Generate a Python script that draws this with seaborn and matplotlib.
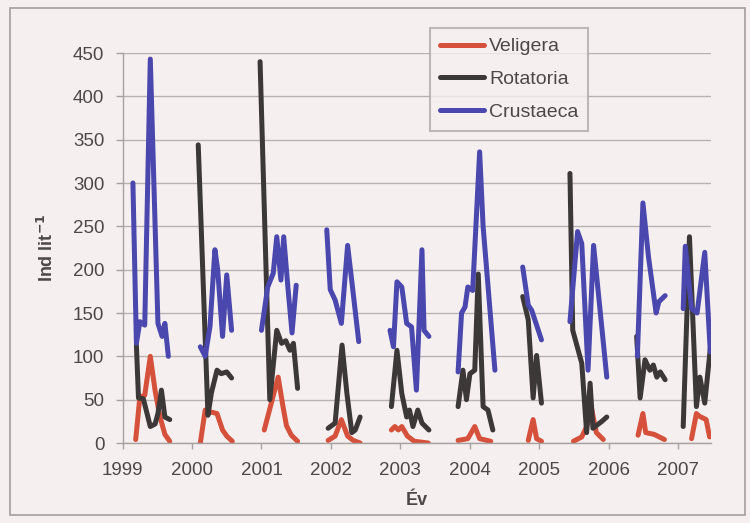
import matplotlib
matplotlib.use("Agg")
import matplotlib.pyplot as plt
from matplotlib.lines import Line2D
from matplotlib.patches import Rectangle
import numpy as np
import pandas as pd
import seaborn as sns

# Series and styling
series_names = ["Veligera", "Rotatoria", "Crustaeca"]
series_colors = ["#d6513b", "#3d3838", "#4a47ae"]

# Sampling dates (decimal years) and densities (ind/l) per group
veligera_t = [1999.19, 1999.25, 1999.32, 1999.40, 1999.47, 1999.54, 1999.61, 1999.68,
              2000.12, 2000.19, 2000.26, 2000.36, 2000.44, 2000.50, 2000.58,
              2001.04, 2001.24, 2001.31, 2001.36, 2001.43, 2001.52,
              2001.96, 2002.06, 2002.15, 2002.24, 2002.32, 2002.42,
              2002.87, 2002.92, 2002.97, 2003.02, 2003.10, 2003.20, 2003.40,
              2003.83, 2003.97, 2004.07, 2004.14, 2004.30,
              2004.84, 2004.91, 2004.96, 2005.03,
              2005.49, 2005.61, 2005.68, 2005.75, 2005.82, 2005.92,
              2006.42, 2006.49, 2006.53, 2006.65, 2006.80,
              2007.19, 2007.26, 2007.30, 2007.40, 2007.45]
veligera_v = [4, 53, 55, 100, 60, 30, 10, 2,
              0, 38, 36, 34, 15, 8, 2,
              15, 76, 42, 20, 9, 2,
              3, 8, 27, 8, 3, 0,
              15, 19, 15, 19, 8, 2, 0,
              3, 5, 19, 5, 2,
              3, 27, 5, 2,
              2, 7, 19, 40, 12, 4,
              9, 34, 12, 10, 4,
              5, 34, 31, 27, 7]

rotatoria_t = [1999.20, 1999.23, 1999.30, 1999.40, 1999.47, 1999.51, 1999.56, 1999.61, 1999.68,
               2000.09, 2000.23, 2000.28, 2000.36, 2000.42, 2000.50, 2000.57,
               2000.98, 2001.12, 2001.22, 2001.29, 2001.35, 2001.41, 2001.46, 2001.52,
               2001.96, 2002.06, 2002.16, 2002.23, 2002.30, 2002.35, 2002.42,
               2002.87, 2002.95, 2003.02, 2003.09, 2003.13, 2003.18, 2003.25, 2003.31, 2003.41,
               2003.83, 2003.90, 2003.95, 2004.00, 2004.07, 2004.12, 2004.19, 2004.26, 2004.33,
               2004.76, 2004.84, 2004.91, 2004.96, 2005.03,
               2005.44, 2005.48, 2005.61, 2005.68, 2005.73, 2005.77, 2005.90, 2005.97,
               2006.40, 2006.45, 2006.52, 2006.59, 2006.64, 2006.69, 2006.74, 2006.81,
               2007.07, 2007.16, 2007.26, 2007.31, 2007.38, 2007.46]
rotatoria_v = [113, 52, 51, 19, 22, 34, 61, 30, 27,
               344, 32, 58, 84, 80, 82, 75,
               440, 50, 130, 115, 118, 107, 115, 63,
               17, 23, 113, 57, 12, 15, 30,
               42, 107, 57, 30, 38, 19, 38, 23, 15,
               42, 84, 50, 80, 84, 195, 42, 38, 15,
               169, 142, 52, 101, 46,
               311, 130, 92, 12, 69, 17, 25, 30,
               123, 52, 96, 84, 90, 76, 82, 73,
               19, 238, 42, 76, 46, 109]

crustaeca_t = [1999.15, 1999.20, 1999.25, 1999.32, 1999.40, 1999.51, 1999.57, 1999.61, 1999.66,
               2000.12, 2000.19, 2000.26, 2000.33, 2000.37, 2000.44, 2000.50, 2000.57,
               2001.00, 2001.09, 2001.17, 2001.22, 2001.28, 2001.32, 2001.38, 2001.44, 2001.50,
               2001.94, 2001.99, 2002.06, 2002.15, 2002.24, 2002.32, 2002.40,
               2002.85, 2002.90, 2002.95, 2003.02, 2003.09, 2003.16, 2003.23, 2003.31, 2003.34, 2003.41,
               2003.83, 2003.88, 2003.93, 2003.97, 2004.04, 2004.14, 2004.19, 2004.36,
               2004.76, 2004.84, 2004.89, 2005.03,
               2005.44, 2005.55, 2005.61, 2005.70, 2005.78, 2005.97,
               2006.41, 2006.49, 2006.57, 2006.68, 2006.72, 2006.81,
               2007.07, 2007.10, 2007.19, 2007.27, 2007.38, 2007.46]
crustaeca_v = [300, 115, 140, 136, 443, 138, 123, 138, 100,
               111, 100, 135, 223, 200, 123, 194, 130,
               130, 180, 196, 238, 188, 238, 180, 127, 182,
               246, 177, 165, 138, 228, 173, 117,
               130, 111, 186, 180, 138, 134, 61, 223, 130, 123,
               82, 150, 157, 180, 176, 336, 250, 84,
               203, 159, 153, 119,
               140, 244, 230, 84, 228, 76,
               100, 277, 215, 150, 163, 170,
               155, 227, 155, 150, 220, 105]

year_ticks = list(range(1999, 2008))
y_ticks = list(range(0, 451, 50))

# Long-form table; a new sampling season starts after a gap of more than ~3 months
frames = []
for name, t, v in [("Veligera", veligera_t, veligera_v),
                   ("Rotatoria", rotatoria_t, rotatoria_v),
                   ("Crustaeca", crustaeca_t, crustaeca_v)]:
    d = pd.DataFrame({"t": t, "v": v})
    d["season"] = (d["t"].diff() > 0.24).cumsum()
    d["series"] = name
    frames.append(d)
df = pd.concat(frames, ignore_index=True)

sns.set_style("white")
plt.rcParams["font.family"] = ["Liberation Sans", "DejaVu Sans"]

bg = "#f6efef"
text_col = "#4d4848"
lw = 3.6
fig = plt.figure(figsize=(7.5, 5.23), dpi=100, facecolor=bg)
ax = fig.add_axes([122.5 / 750, 1 - 443 / 523, (711 - 122.5) / 750, 390 / 523])
ax.set_facecolor(bg)

sns.lineplot(data=df, x="t", y="v", hue="series", hue_order=series_names,
             palette=series_colors, units="season", estimator=None,
             linewidth=lw, legend=False, ax=ax)

ax.set_xlim(1999, 2007.47)
ax.set_ylim(0, 450)
ax.set_xticks(year_ticks)
ax.set_xticklabels([str(y) for y in year_ticks])
ax.set_yticks(y_ticks)
ax.yaxis.grid(True, color="#b9b2b2", linewidth=1)
ax.xaxis.grid(False)
for side in ["top", "right"]:
    ax.spines[side].set_visible(False)
for side in ["left", "bottom"]:
    ax.spines[side].set_color("#a8a1a1")
    ax.spines[side].set_linewidth(1)
ax.tick_params(axis="both", labelsize=13.5, colors=text_col)
ax.tick_params(axis="x", direction="out", length=4, width=1, color="#a8a1a1", pad=10, bottom=True)
ax.tick_params(axis="y", direction="out", length=5, width=1, color="#a8a1a1", pad=8, left=True)

ax.set_xlabel("Év", fontsize=13, fontweight="bold", color=text_col)
ax.set_ylabel("Ind lit$^{\\mathbf{-1}}$", fontsize=13, fontweight="bold", color=text_col)
ax.xaxis.set_label_coords(0.5, -0.125)
ax.yaxis.set_label_coords(-0.112, 0.5)

handles = [Line2D([0], [0], color=c, lw=lw) for c in series_colors]
leg = fig.legend(handles, series_names, loc="upper left",
                 bbox_to_anchor=(430 / 750, 1 - 28 / 523), bbox_transform=fig.transFigure,
                 frameon=True, fancybox=False, fontsize=14, handlelength=2.3,
                 handletextpad=0.25, labelspacing=0.78, borderpad=0.5, borderaxespad=0)
leg.get_frame().set_edgecolor("#b0a9a9")
leg.get_frame().set_facecolor(bg)
leg.get_frame().set_linewidth(1.5)
for txt in leg.get_texts():
    txt.set_color(text_col)

# Outer chart frame
fig.patches.append(Rectangle((10 / 750, 1 - 515 / 523), 735 / 750, 507 / 523,
                             transform=fig.transFigure, fill=False,
                             edgecolor="#a59e9e", linewidth=1.2))

fig.savefig("out.png", dpi=100, facecolor=bg)
